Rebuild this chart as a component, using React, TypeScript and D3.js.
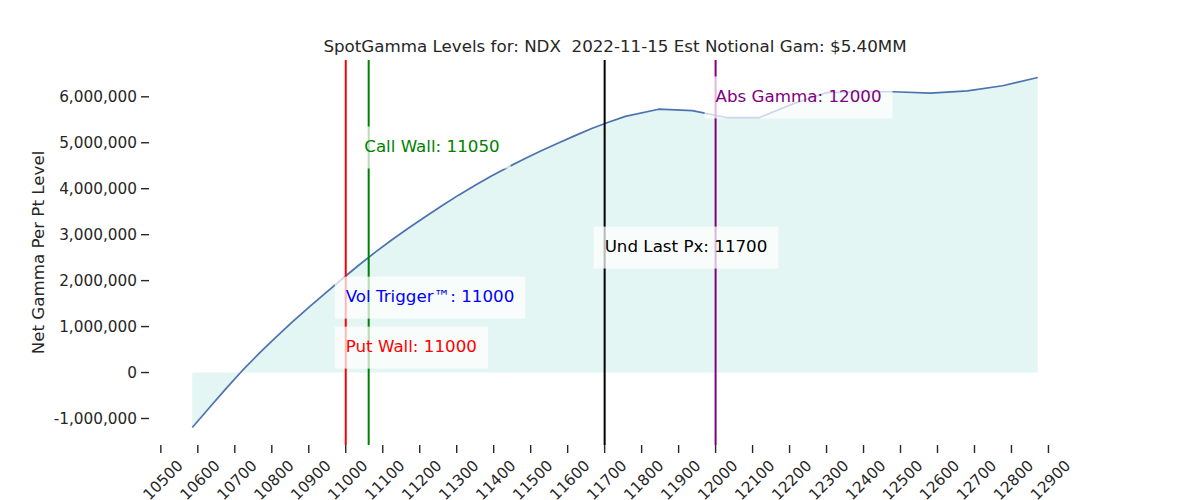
import React, { useEffect, useRef } from "react";
import * as d3 from "d3";

const strikes = [
  10585, 10630, 10675, 10720, 10765, 10810, 10855, 10900, 10945, 10990, 11035,
  11080, 11125, 11170, 11215, 11260, 11305, 11350, 11395, 11440, 11485, 11530,
  11575, 11620, 11665, 11710, 11756, 11846, 11937, 12029, 12119, 12210, 12300,
  12390, 12480, 12581, 12681, 12776, 12871,
];
const netGamma = [
  -1196000, -776000, -361000, 40000, 410000, 760000, 1095000, 1420000, 1730000,
  2035000, 2335000, 2620000, 2890000, 3145000, 3390000, 3630000, 3860000,
  4075000, 4280000, 4475000, 4655000, 4830000, 4995000, 5155000, 5310000,
  5445000, 5575000, 5730000, 5700000, 5550000, 5550000, 5850000, 6090000,
  6110000, 6110000, 6080000, 6130000, 6240000, 6420000,
];

const xTicks = d3.range(10500, 12901, 100);
const yTicks = [-1000000, 0, 1000000, 2000000, 3000000, 4000000, 5000000, 6000000];

// level lines: value where the line sits, colour
const levelLineX = [11000, 11000, 11062, 11700, 12000];
const levelColors = ["blue", "red", "green", "black", "purple"];
// labels: text, anchor x (strike), y (gamma units)
const labelTexts = [
  "Vol Trigger™: 11000",
  "Put Wall: 11000",
  "Call Wall: 11050",
  "Und Last Px: 11700",
  "Abs Gamma: 12000",
];
const labelX = [11000, 11000, 11050, 11700, 12000];
const labelY = [1532000, 444000, 4798000, 2621000, 5887000];

const title = "SpotGamma Levels for: NDX  2022-11-15 Est Notional Gam: $5.40MM";
const FONT = "DejaVu Sans, sans-serif";
const INK = "#262626";

const App: React.FC = () => {
  const svgRef = useRef(null);

  useEffect(() => {
    const w = 1200;
    const h = 500;
    const left = 150;
    const right = 1080;
    const top = 60;
    const bottom = 445;

    const svg = d3
      .select(svgRef.current)
      .attr("width", w)
      .attr("height", h)
      .style("font-family", FONT);

    const data = strikes.map((s, i) => ({ x: s, y: netGamma[i] }));

    // matplotlib style 5% margins
    const [x0, x1] = d3.extent(strikes) as [number, number];
    const [y0, y1] = d3.extent(netGamma) as [number, number];
    const mx = (x1 - x0) * 0.05;
    const my = (y1 - y0) * 0.05;

    const xScale = d3.scaleLinear().domain([x0 - mx, x1 + mx]).range([left, right]);
    const yScale = d3.scaleLinear().domain([y0 - my, y1 + my]).range([bottom, top]);

    const fmt = d3
      .formatLocale({ decimal: ".", thousands: ",", grouping: [3], currency: ["$", ""], minus: "-" })
      .format(",");

    // fill between 0 and curve
    const area = d3
      .area<{ x: number; y: number }>()
      .x((d) => xScale(d.x))
      .y0(yScale(0))
      .y1((d) => yScale(d.y));
    svg.append("path").datum(data).attr("d", area).attr("fill", "#e4f6f3");

    const line = d3
      .line<{ x: number; y: number }>()
      .x((d) => xScale(d.x))
      .y((d) => yScale(d.y));
    svg
      .append("path")
      .datum(data)
      .attr("d", line)
      .attr("fill", "none")
      .attr("stroke", "#4c72b0")
      .attr("stroke-width", 1.7)
      .attr("stroke-linejoin", "round");

    // vertical level lines (a line hidden by a later one at the same x is skipped)
    levelLineX.forEach((v, i) => {
      if (levelLineX.slice(i + 1).includes(v)) return;
      svg
        .append("line")
        .attr("x1", xScale(v))
        .attr("x2", xScale(v))
        .attr("y1", top)
        .attr("y2", bottom)
        .attr("stroke", levelColors[i])
        .attr("stroke-width", 2);
    });

    // y axis
    const yAxis = svg.append("g");
    yTicks.forEach((t) => {
      const y = yScale(t);
      yAxis
        .append("line")
        .attr("x1", 141)
        .attr("x2", 149)
        .attr("y1", y)
        .attr("y2", y)
        .attr("stroke", INK)
        .attr("stroke-width", 1.4);
      yAxis
        .append("text")
        .attr("x", 137)
        .attr("y", y)
        .attr("dy", "0.35em")
        .attr("text-anchor", "end")
        .attr("fill", INK)
        .style("font-size", "15.3px")
        .text(fmt(t));
    });

    // x axis
    const xAxis = svg.append("g");
    xTicks.forEach((t) => {
      const x = xScale(t);
      xAxis
        .append("line")
        .attr("x1", x)
        .attr("x2", x)
        .attr("y1", bottom)
        .attr("y2", bottom + 8)
        .attr("stroke", INK)
        .attr("stroke-width", 1.4);
      xAxis
        .append("text")
        .attr("transform", `translate(${x + 2}, ${bottom + 35}) rotate(-45)`)
        .attr("text-anchor", "middle")
        .attr("dy", "0.35em")
        .attr("fill", INK)
        .style("font-size", "15.3px")
        .text(String(t));
    });

    svg
      .append("text")
      .attr("transform", `translate(44, ${(top + bottom) / 2}) rotate(-90)`)
      .attr("text-anchor", "middle")
      .attr("fill", INK)
      .style("font-size", "16.7px")
      .text("Net Gamma Per Pt Level");

    svg
      .append("text")
      .attr("x", (left + right) / 2)
      .attr("y", 52)
      .attr("text-anchor", "middle")
      .attr("fill", INK)
      .style("font-size", "16.7px")
      .style("white-space", "pre")
      .text(title);

    // labels with semi transparent boxes
    labelTexts.forEach((txt, i) => {
      const g = svg.append("g");
      const rect = g.append("rect").attr("fill", "white").attr("fill-opacity", 0.72);
      const tx = xScale(labelX[i]);
      const ty = yScale(labelY[i]);
      const text = g
        .append("text")
        .attr("x", tx)
        .attr("y", ty)
        .attr("fill", levelColors[i])
        .style("font-size", "16.7px")
        .text(txt);
      const len = (text.node() as SVGTextElement).getComputedTextLength();
      rect
        .attr("x", tx - 11)
        .attr("y", ty - 25.5)
        .attr("width", len + 22)
        .attr("height", 42);
    });

    return () => {
      svg.selectAll("*").remove();
    };
  }, []);

  return (
    <div style={{ position: "absolute", left: 0, top: 0 }}>
      <svg ref={svgRef} style={{ display: "block" }} />
    </div>
  );
};

export default App;
